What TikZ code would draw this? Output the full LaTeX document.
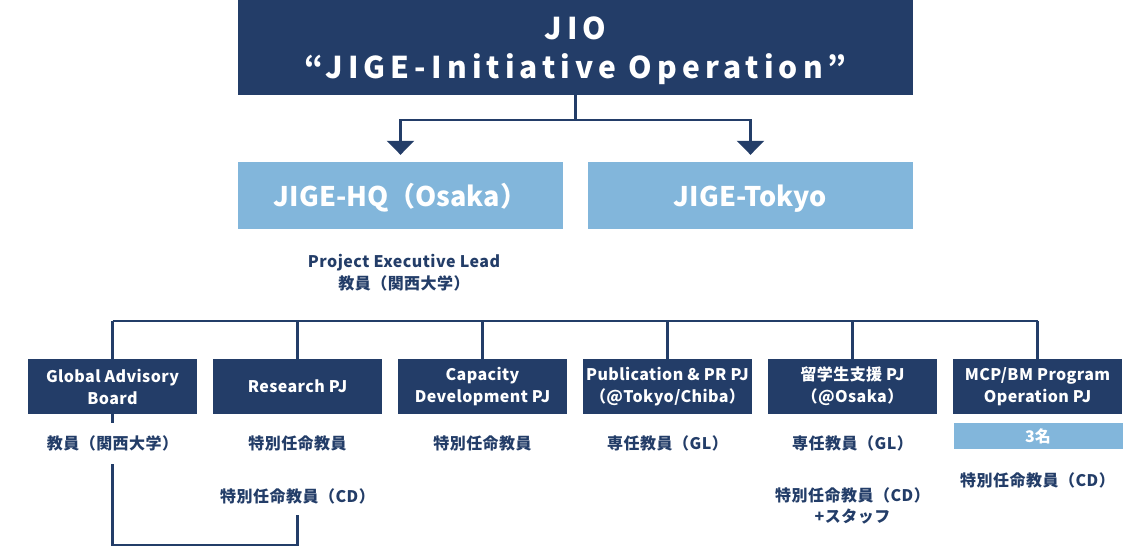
\documentclass[tikz,border=0pt]{standalone}
\usepackage{fontspec}
\setmainfont{Noto Sans CJK JP}
\usetikzlibrary{arrows.meta}
\definecolor{navy}{HTML}{233D68}
\definecolor{skyblue}{HTML}{82B6DB}
\tikzset{
  topbox/.style={fill=navy, minimum width=675pt, minimum height=95pt, inner sep=0pt},
  toptext/.style={text=white, inner sep=0pt, align=center,
    font=\fontsize{30}{39}\selectfont\bfseries\addfontfeature{LetterSpace=17}},
  sitebox/.style={fill=skyblue, text=white, minimum width=325pt, minimum height=67pt, inner sep=0pt,
    text height=21pt, text depth=0pt, font=\fontsize{27}{32}\selectfont\bfseries},
  pjbox/.style={fill=navy, text=white, minimum width=169pt, minimum height=55pt, inner sep=0pt, align=center,
    font=\fontsize{16}{22}\selectfont\bfseries\addfontfeature{LetterSpace=2.5}},
  lbl/.style={text=navy, inner sep=0pt, align=center,
    font=\fontsize{16}{21}\selectfont\bfseries\addfontfeature{LetterSpace=3}},
  link/.style={draw=navy, line width=2.6pt},
}
\begin{document}
\begin{tikzpicture}[x=1pt, y=-1pt]
    \useasboundingbox (0,0) rectangle (1144,547);
    % Nodes
    \node[topbox] (jio) at (575.5,47.5) {};
    \node[toptext] (jiotext) at (575.5,51) {JIO\\“JIGE-Initiative Operation”};
    \node[sitebox] (hq) at (400.5,195.5) {JIGE-HQ（Osaka）};
    \node[sitebox] (tokyo) at (750.5,195.5) {JIGE-Tokyo};
    \node[lbl, font=\fontsize{16}{22}\selectfont\bfseries\addfontfeature{LetterSpace=3}] (lead) at (404,273) {Project Executive Lead\\教員（関西大学）};
    \coordinate (split) at (575.5,120);
    \draw[link] (jio.south) -- (split);
    \draw[link, -{Triangle[width=27pt,length=14pt]}, shorten >=7pt] (split) -| (hq.north);
    \draw[link, -{Triangle[width=27pt,length=14pt]}, shorten >=7pt] (split) -| (tokyo.north);
    % Projects
    \node[pjbox] (gab) at (112.5,386.5) {Global Advisory\\Board};
    \node[pjbox] (research) at (297.5,386.5) {Research PJ};
    \node[pjbox] (capacity) at (482.5,386.5) {Capacity\\Development PJ};
    \node[pjbox] (pub) at (667.5,386.5) {Publication \& PR PJ\\（@Tokyo/Chiba）};
    \node[pjbox] (ryugaku) at (852.5,386.5) {留学生支援 PJ\\（@Osaka）};
    \node[pjbox] (mcp) at (1037.5,386.5) {MCP/BM Program\\Operation PJ};
    \coordinate (bus) at (575,321);
    \draw[link] (gab.north |- bus) -- (mcp.north |- bus);
    \draw[link] (gab.north) -- (gab.north |- bus);
    \draw[link] (research.north) -- (research.north |- bus);
    \draw[link] (capacity.north) -- (capacity.north |- bus);
    \draw[link] (pub.north) -- (pub.north |- bus);
    \draw[link] (ryugaku.north) -- (ryugaku.north |- bus);
    \draw[link] (mcp.north) -- (mcp.north |- bus);
    % Staff
    \node[lbl] (gabstaff) at (112.5,443) {教員（関西大学）};
    \node[lbl] (resstaff) at (297.5,443) {特別任命教員};
    \node[lbl] (rescd) at (297.5,496) {特別任命教員（CD）};
    \node[lbl] (capstaff) at (482.5,443) {特別任命教員};
    \node[lbl] (pubstaff) at (667.5,443) {専任教員（GL）};
    \node[lbl] (ryustaff) at (852.5,443) {専任教員（GL）};
    \node[lbl] (ryucd) at (852.5,505.5) {特別任命教員（CD）\\+スタッフ};
    \node[fill=skyblue, text=white, minimum width=169pt, minimum height=26pt, inner sep=0pt,
      font=\fontsize{16}{20}\selectfont\bfseries] (count) at (1038,436) {3名};
    \node[lbl] (mcpcd) at (1037.5,480) {特別任命教員（CD）};
    \coordinate (gabdown) at (112.5,464);
    \coordinate (gabbottom) at (112.5,545);
    \coordinate (cdup) at (297.5,515);
    \draw[link] (gab.south) -- ++(0,9);
    \draw[link] (gabdown) -- (gabbottom) -| (cdup);
\end{tikzpicture}
\end{document}
